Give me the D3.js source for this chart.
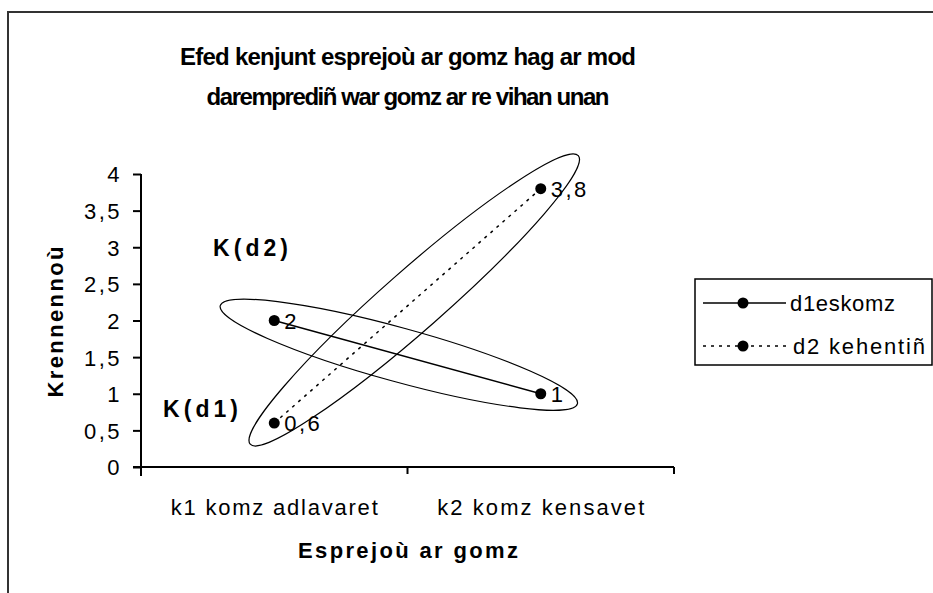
<!DOCTYPE html>
<html>
<head>
<meta charset="utf-8">
<script src="https://cdn.jsdelivr.net/npm/d3@7"></script>
<style>
  body { margin: 0; background: #fff; }
  text { font-family: "Liberation Sans Narrow", "Liberation Sans", Arial, sans-serif; fill: #000; }
</style>
</head>
<body>
<div id="chart"></div>
<script>
// chart data
var categories = ["k1 komz adlavaret", "k2 komz kensavet"];
var seriesNames = ["d1eskomz", "d2 kehentiñ"];
var d1Values = [2, 1];
var d2Values = [0.6, 3.8];
var yTicks = [0, 0.5, 1, 1.5, 2, 2.5, 3, 3.5, 4];
var titleLines = ["Efed kenjunt esprejoù ar gomz hag ar mod", "daremprediñ war gomz ar re vihan unan"];
var yTitle = "Krennennoù";
var xTitle = "Esprejoù ar gomz";

var W = 933, H = 593;
var svg = d3.select("#chart").append("svg").attr("width", W).attr("height", H);

// outer chart border (right/bottom run off the picture)
svg.append("rect").attr("x", 8).attr("y", 12).attr("width", 960).attr("height", 620)
  .attr("fill", "none").attr("stroke", "#333").attr("stroke-width", 2);

var x = d3.scaleBand().domain(categories).range([141, 674]);
var y = d3.scaleLinear().domain([0, 4]).range([467, 174]);
var fmt = function (d) { return String(d).replace(".", ","); };

// title
svg.selectAll("text.title").data(titleLines).enter().append("text")
  .attr("class", "title")
  .attr("x", 408).attr("y", function (d, i) { return 65 + i * 40; })
  .attr("text-anchor", "middle")
  .attr("textLength", function (d, i) { return i ? 403 : 456; }).attr("lengthAdjust", "spacing")
  .style("font-size", "24px").style("font-weight", "bold")
  .text(function (d) { return d; });

// y axis
var yAxis = svg.append("g").attr("transform", "translate(141,0)")
  .call(d3.axisLeft(y).tickValues(yTicks).tickSize(8).tickPadding(11).tickFormat(fmt));
yAxis.select(".domain").attr("d", "M0," + y(4) + "V" + (y(0) + 9)).attr("stroke", "#000").attr("stroke-width", 2);
yAxis.selectAll(".tick line").attr("stroke", "#000").attr("stroke-width", 2);
yAxis.selectAll(".tick text").attr("dy", "0.36em")
  .style("font-size", "22px").style("letter-spacing", "2.5px")
  .style("font-family", "Liberation Sans Narrow, Liberation Sans, Arial, sans-serif");

// x axis
var xAxis = svg.append("g").attr("transform", "translate(0," + y(0) + ")");
xAxis.append("line").attr("x1", 133).attr("x2", x.range()[1]).attr("y1", 0).attr("y2", 0)
  .attr("stroke", "#000").attr("stroke-width", 2);
xAxis.selectAll("line.xt").data(categories.slice(1).concat(["end"])).enter().append("line")
  .attr("class", "xt")
  .attr("x1", function (d) { return d === "end" ? x.range()[1] : x(d); })
  .attr("x2", function (d) { return d === "end" ? x.range()[1] : x(d); })
  .attr("y1", 0).attr("y2", 7).attr("stroke", "#000").attr("stroke-width", 2);
xAxis.selectAll("text").data(categories).enter().append("text")
  .attr("x", function (d) { return x(d) + x.bandwidth() / 2; })
  .attr("y", 48).attr("text-anchor", "middle")
  .attr("textLength", 207).attr("lengthAdjust", "spacing")
  .style("font-size", "22px")
  .text(function (d) { return d; });

// axis titles
svg.append("text").attr("transform", "translate(63,322) rotate(-90)")
  .attr("text-anchor", "middle").style("font-size", "22px").style("font-weight", "bold")
  .attr("textLength", 151).attr("lengthAdjust", "spacing")
  .text(yTitle);
svg.append("text").attr("x", 408).attr("y", 558).attr("text-anchor", "middle")
  .style("font-size", "22px").style("font-weight", "bold")
  .attr("textLength", 220).attr("lengthAdjust", "spacing")
  .text(xTitle);

// series
var cx = function (d, i) { return x(categories[i]) + x.bandwidth() / 2; };
var series = [
  { name: seriesNames[0], values: d1Values, dash: null },
  { name: seriesNames[1], values: d2Values, dash: "3,5" }
];
var line = d3.line().x(function (d, i) { return cx(d, i); }).y(function (d) { return y(d); });

// hand-drawn style rings round each series: reach before/after the points, half thickness
var rings = [
  { values: d1Values, before: 56, after: 38, half: 27 },
  { values: d2Values, before: 32, after: 50, half: 30 }
];
rings.forEach(function (r) {
  var x0 = cx(null, 0), y0 = y(r.values[0]), x1 = cx(null, 1), y1 = y(r.values[1]);
  var dx = x1 - x0, dy = y1 - y0, len = Math.sqrt(dx * dx + dy * dy);
  var ux = dx / len, uy = dy / len;
  var a = (len + r.before + r.after) / 2;
  var mx = x0 - ux * r.before + ux * a, my = y0 - uy * r.before + uy * a;
  svg.append("ellipse").attr("cx", mx).attr("cy", my).attr("rx", a).attr("ry", r.half)
    .attr("transform", "rotate(" + (Math.atan2(dy, dx) * 180 / Math.PI) + "," + mx + "," + my + ")")
    .attr("fill", "none").attr("stroke", "#000").attr("stroke-width", 1.2);
});

series.forEach(function (s) {
  svg.append("path").datum(s.values).attr("d", line)
    .attr("fill", "none").attr("stroke", "#000").attr("stroke-width", 1.5)
    .attr("stroke-dasharray", s.dash);
  svg.selectAll(null).data(s.values).enter().append("circle")
    .attr("cx", cx).attr("cy", function (d) { return y(d); }).attr("r", 5.5).attr("fill", "#000");
  svg.selectAll(null).data(s.values).enter().append("text")
    .attr("x", function (d, i) { return cx(d, i) + 10; })
    .attr("y", function (d) { return y(d) + 8; })
    .style("font-size", "22px").style("letter-spacing", "2.5px")
    .text(fmt);
});

// annotation labels
svg.append("text").attr("x", 213).attr("y", y(3) + 9).style("font-size", "23px").style("font-weight", "bold")
  .attr("textLength", 75).attr("lengthAdjust", "spacing").text("K(d2)");
svg.append("text").attr("x", 163).attr("y", y(0.8) + 9).style("font-size", "23px").style("font-weight", "bold")
  .attr("textLength", 75).attr("lengthAdjust", "spacing").text("K(d1)");

// legend
var lg = svg.append("g").attr("transform", "translate(695,279)");
lg.append("rect").attr("width", 237).attr("height", 86).attr("fill", "#fff")
  .attr("stroke", "#000").attr("stroke-width", 1.5);
var rows = lg.selectAll("g").data(series).enter().append("g")
  .attr("transform", function (d, i) { return "translate(0," + (24 + i * 43) + ")"; });
rows.append("line").attr("x1", 8).attr("x2", 91).attr("stroke", "#000").attr("stroke-width", 1.5)
  .attr("stroke-dasharray", function (d) { return d.dash; });
rows.append("circle").attr("cx", 48).attr("r", 5.5).attr("fill", "#000");
rows.append("text").attr("x", function (d, i) { return i ? 98 : 95; }).attr("y", 8).style("font-size", "22px")
  .attr("textLength", function (d, i) { return i ? 132 : 105; }).attr("lengthAdjust", "spacing")
  .text(function (d) { return d.name; });
</script>
</body>
</html>
